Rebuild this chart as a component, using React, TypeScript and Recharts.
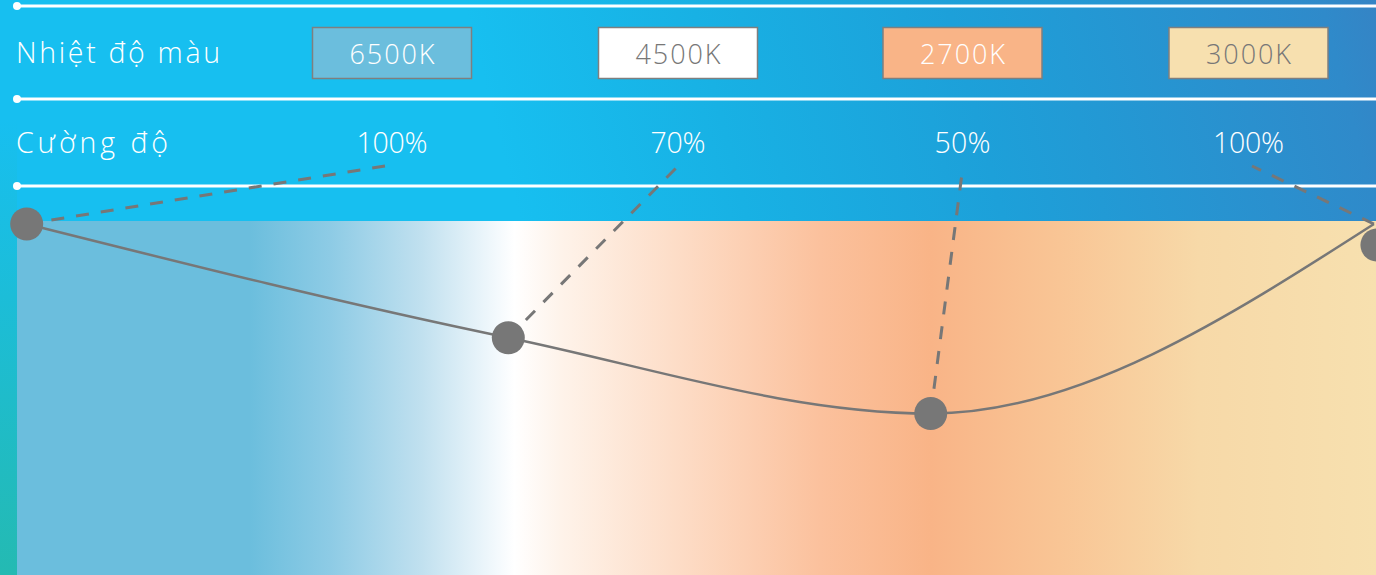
import React from 'react';
import { LineChart, Line, XAxis, YAxis } from 'recharts';

// ---- data ----
const colorTemps = ['6500K', '4500K', '2700K', '3000K'];
const intensityLabels = ['100%', '70%', '50%', '100%'];
const intensities = [100, 70, 50, 100];
// position of each point along the colour spectrum (0..100 of the panel width)
const spectrumPos = [1.94, 36.94, 67.64, 99.85];
const rowLabels = ['Nhiệt độ màu', 'Cường độ'];

const boxFills = ['#6BBEDD', '#FFFFFF', '#F9B487', '#F7E0AF'];
const boxText = ['#FFFFFF', '#777777', '#FFFFFF', '#777777'];

const data = intensities.map((v, i) => ({ x: spectrumPos[i], v }));

// ---- layout ----
const W = 1376;
const H = 575;
const colCenters = [392, 678, 962.5, 1248.5];
const leaderX = [385, 678, 963, 1252];
const leaderY = 166;
const rowLabelWidths = [204, 152];
const pctWidths = [71, 55, 56, 71];
const boxTextWidth = 85;
const FONT = '"Open Sans", "Noto Sans", sans-serif';

const renderDot = (props: any) => {
  const { cx, cy, index } = props;
  const last = index === data.length - 1;
  return (
    <g key={`dot-${index}`}>
      <line
        x1={cx}
        y1={cy}
        x2={leaderX[index]}
        y2={leaderY}
        stroke="#777777"
        strokeWidth={3}
        strokeDasharray="13 12"
      />
      <circle cx={last ? cx + 3 : cx} cy={last ? cy + 21 : cy} r={16.5} fill="#777777" />
    </g>
  );
};

const Background = () => (
  <svg width={W} height={H} style={{ position: 'absolute', left: 0, top: 0 }}>
    <defs>
      <linearGradient id="hdr" gradientUnits="userSpaceOnUse" x1={520} y1={221} x2={1376} y2={0}>
        <stop offset="0" stopColor="#17BFF0" />
        <stop offset="0.25" stopColor="#18B1E4" />
        <stop offset="0.53" stopColor="#1DA0D9" />
        <stop offset="0.94" stopColor="#2F8ACA" />
        <stop offset="1" stopColor="#3584C5" />
      </linearGradient>
      <linearGradient id="strip" gradientUnits="userSpaceOnUse" x1={0} y1={120} x2={0} y2={575}>
        <stop offset="0" stopColor="#17BFF0" />
        <stop offset="1" stopColor="#24BAB2" />
      </linearGradient>
      <linearGradient id="spec" gradientUnits="userSpaceOnUse" x1={17} y1={0} x2={1376} y2={0}>
        <stop offset="0" stopColor="#6BBEDD" />
        <stop offset="0.171" stopColor="#6BBEDD" />
        <stop offset="0.23" stopColor="#8DCBE5" />
        <stop offset="0.297" stopColor="#C0E0EF" />
        <stop offset="0.355" stopColor="#F5FAFD" />
        <stop offset="0.366" stopColor="#FFFFFF" />
        <stop offset="0.40" stopColor="#FEF3EA" />
        <stop offset="0.488" stopColor="#FDDCC6" />
        <stop offset="0.591" stopColor="#FBC19D" />
        <stop offset="0.672" stopColor="#F9B487" />
        <stop offset="0.767" stopColor="#F9C595" />
        <stop offset="0.87" stopColor="#F7D9A8" />
        <stop offset="1" stopColor="#F7E0AF" />
      </linearGradient>
    </defs>
    <rect x={0} y={0} width={W} height={H} fill="url(#hdr)" />
    <rect x={0} y={0} width={17} height={H} fill="url(#strip)" />
    <rect x={17} y={221} width={W - 17} height={H - 221} fill="url(#spec)" />
    {[6, 99, 186].map((y) => (
      <g key={y}>
        <line x1={17} y1={y} x2={W} y2={y} stroke="#FFFFFF" strokeWidth={3} />
        <circle cx={17} cy={y} r={4} fill="#FFFFFF" />
      </g>
    ))}
    {rowLabels.map((label, i) => (
      <text
        key={label}
        x={16}
        y={i === 0 ? 52 : 141.5}
        fill="#FFFFFF"
        fontFamily={FONT}
        fontWeight={300}
        fontSize={28.5}
        dominantBaseline="central"
        textLength={rowLabelWidths[i]}
        lengthAdjust="spacing"
      >
        {label}
      </text>
    ))}
    {colorTemps.map((t, i) => (
      <g key={t}>
        <rect
          x={colCenters[i] - 79.5}
          y={27.5}
          width={159}
          height={51}
          fill={boxFills[i]}
          stroke="#7F7F7F"
          strokeWidth={1.5}
        />
        <text
          x={colCenters[i]}
          y={53}
          fill={boxText[i]}
          fontFamily={FONT}
          fontWeight={300}
          fontSize={27}
          textAnchor="middle"
          dominantBaseline="central"
          textLength={boxTextWidth}
          lengthAdjust="spacing"
        >
          {t}
        </text>
        <text
          x={colCenters[i]}
          y={141.5}
          fill="#FFFFFF"
          fontFamily={FONT}
          fontWeight={300}
          fontSize={28.5}
          textAnchor="middle"
          dominantBaseline="central"
          textLength={pctWidths[i]}
          lengthAdjust="spacing"
        >
          {intensityLabels[i]}
        </text>
      </g>
    ))}
  </svg>
);

export default function App() {
  return (
    <div style={{ position: 'absolute', left: 0, top: 0, width: W, height: H, overflow: 'hidden' }}>
      <Background />
      <div style={{ position: 'absolute', left: 0, top: 0 }}>
        <LineChart width={W} height={H} data={data} margin={{ top: 224, right: 0, bottom: 0, left: 0 }}>
          <XAxis type="number" dataKey="x" domain={[0, 100]} hide />
          <YAxis type="number" domain={[7.4, 100]} hide />
          <Line
            type="monotone"
            dataKey="v"
            stroke="#777777"
            strokeWidth={2.5}
            dot={renderDot}
            activeDot={false}
            isAnimationActive={false}
          />
        </LineChart>
      </div>
    </div>
  );
}
